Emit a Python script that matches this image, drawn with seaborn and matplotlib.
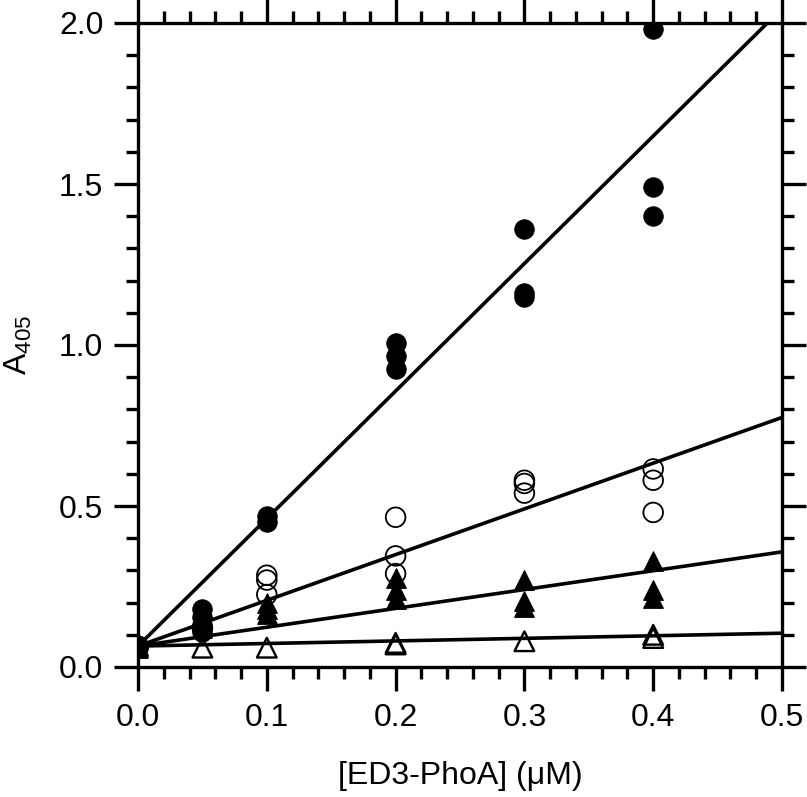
import numpy as np
import pandas as pd
import matplotlib
matplotlib.use("Agg")
import matplotlib.pyplot as plt
import seaborn as sns
from matplotlib.ticker import MultipleLocator

# data
conc_fc = [0, 0, 0.05, 0.05, 0.05, 0.05, 0.1, 0.1, 0.2, 0.2, 0.2, 0.3, 0.3, 0.3, 0.4, 0.4, 0.4]
a405_fc = [0.065, 0.06, 0.18, 0.155, 0.13, 0.11, 0.47, 0.45, 1.005, 0.965, 0.925, 1.36, 1.16, 1.15, 1.98, 1.49, 1.40]

conc_oc = [0, 0.05, 0.1, 0.1, 0.1, 0.2, 0.2, 0.2, 0.3, 0.3, 0.3, 0.4, 0.4, 0.4]
a405_oc = [0.065, 0.12, 0.285, 0.27, 0.225, 0.465, 0.345, 0.29, 0.58, 0.57, 0.54, 0.615, 0.58, 0.48]

conc_ft = [0, 0.05, 0.1, 0.1, 0.1, 0.2, 0.2, 0.2, 0.3, 0.3, 0.3, 0.4, 0.4, 0.4]
a405_ft = [0.06, 0.12, 0.2, 0.18, 0.165, 0.275, 0.24, 0.21, 0.27, 0.205, 0.185, 0.33, 0.24, 0.215]

conc_ot = [0, 0.05, 0.1, 0.2, 0.2, 0.3, 0.4, 0.4]
a405_ot = [0.065, 0.06, 0.06, 0.075, 0.07, 0.08, 0.1, 0.09]

# fitted lines (intercept, slope)
fit_intercepts = [0.065, 0.065, 0.065, 0.065]
fit_slopes = [3.96, 1.42, 0.585, 0.08]

sns.set_style("ticks")
plt.rcParams['font.family'] = ['Liberation Sans', 'DejaVu Sans']
plt.rcParams['mathtext.fontset'] = 'custom'
plt.rcParams['mathtext.rm'] = 'Liberation Sans'
plt.rcParams['mathtext.it'] = 'Liberation Sans:italic'

fig = plt.figure(figsize=(8.07, 7.97), dpi=100)
ax = fig.add_axes([138/807, 1-667/797, (782-138)/807, (667-23)/797])

#fit lines
xs = np.array([0, 0.5])
for b, m in zip(fit_intercepts, fit_slopes):
    sns.lineplot(x=xs, y=b + m*xs, ax=ax, color='black', lw=2.6, zorder=3)

ms = 200
sns.scatterplot(x=conc_oc, y=a405_oc, ax=ax, marker='o', s=ms, facecolor='none',
                edgecolor='black', linewidth=1.3, zorder=4)
sns.scatterplot(x=conc_ot, y=a405_ot, ax=ax, marker='^', s=ms, facecolor='none',
                edgecolor='black', linewidth=1.7, zorder=4)
sns.scatterplot(x=conc_ft, y=a405_ft, ax=ax, marker='^', s=ms, color='black',
                edgecolor='black', linewidth=0.8, zorder=5)
sns.scatterplot(x=conc_fc, y=a405_fc, ax=ax, marker='o', s=ms, color='black',
                edgecolor='black', linewidth=0.5, zorder=5)

ax.set_xlim(0, 0.5)
ax.set_ylim(0, 2.0)
ax.xaxis.set_major_locator(MultipleLocator(0.1))
ax.xaxis.set_minor_locator(MultipleLocator(0.02))
ax.yaxis.set_major_locator(MultipleLocator(0.5))
ax.yaxis.set_minor_locator(MultipleLocator(0.1))
ax.xaxis.set_major_formatter(matplotlib.ticker.FormatStrFormatter('%.1f'))
ax.yaxis.set_major_formatter(matplotlib.ticker.FormatStrFormatter('%.1f'))

for sp in ax.spines.values():
    sp.set_visible(True)
    sp.set_linewidth(2.4)
    sp.set_color('black')
ax.tick_params(which='both', direction='out', top=True, right=True, width=2.4,
               labelsize=23, colors='black')
ax.tick_params(which='major', length=17)
ax.tick_params(which='minor', length=8.5)
ax.tick_params(axis='x', which='major', pad=9)
ax.tick_params(axis='y', which='major', pad=8)

ax.set_xlabel('[ED3-PhoA] (μM)', fontsize=23, labelpad=20, color='black')
ax.set_ylabel('A$_{\\mathrm{405}}$', fontsize=23, labelpad=18, color='black')

fig.savefig('out.png', dpi=100)
